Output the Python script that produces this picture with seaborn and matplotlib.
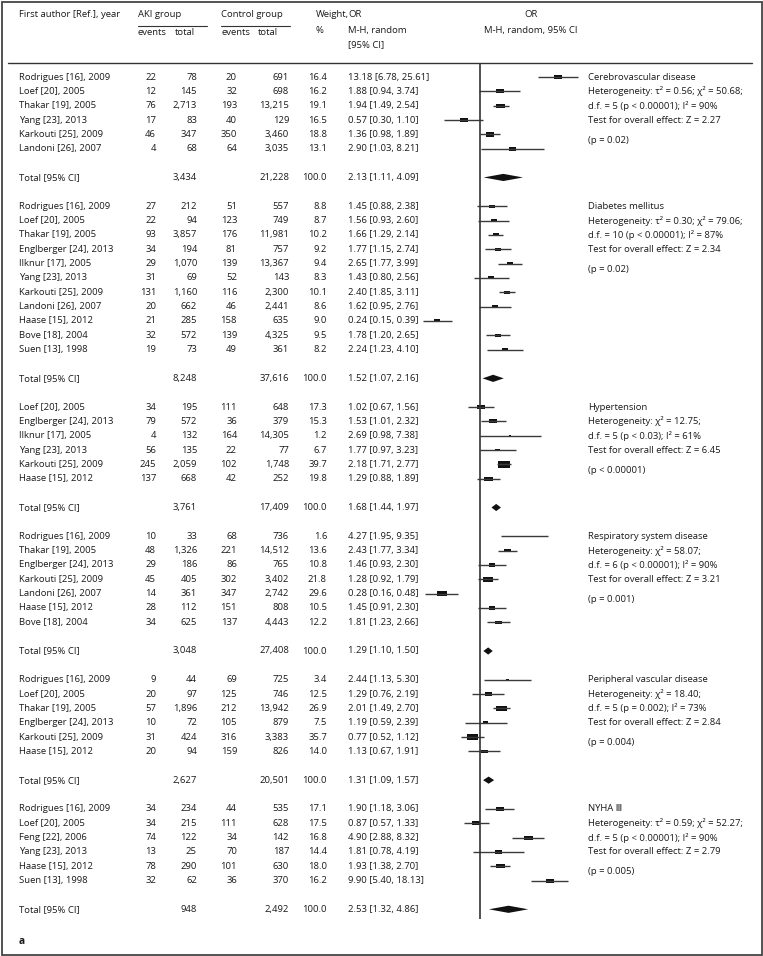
import numpy as np
import pandas as pd
import matplotlib
matplotlib.use("Agg")
import matplotlib.pyplot as plt
from matplotlib.path import Path
from matplotlib.markers import MarkerStyle
from matplotlib.patches import Rectangle
import seaborn as sns

sns.set_theme(style="white")
plt.rcParams['font.family'] = ['Open Sans', 'DejaVu Sans']

# ---------------- data ----------------
group_names = ["Cerebrovascular disease", "Diabetes mellitus", "Hypertension",
               "Respiratory system disease", "Peripheral vascular disease", "NYHA \u2162"]
group_sizes = [6, 11, 6, 7, 6, 6]

study_author = [
    "Rodrigues [16], 2009", "Loef [20], 2005", "Thakar [19], 2005", "Yang [23], 2013",
    "Karkouti [25], 2009", "Landoni [26], 2007",
    "Rodrigues [16], 2009", "Loef [20], 2005", "Thakar [19], 2005", "Englberger [24], 2013",
    "Ilknur [17], 2005", "Yang [23], 2013", "Karkouti [25], 2009", "Landoni [26], 2007",
    "Haase [15], 2012", "Bove [18], 2004", "Suen [13], 1998",
    "Loef [20], 2005", "Englberger [24], 2013", "Ilknur [17], 2005", "Yang [23], 2013",
    "Karkouti [25], 2009", "Haase [15], 2012",
    "Rodrigues [16], 2009", "Thakar [19], 2005", "Englberger [24], 2013", "Karkouti [25], 2009",
    "Landoni [26], 2007", "Haase [15], 2012", "Bove [18], 2004",
    "Rodrigues [16], 2009", "Loef [20], 2005", "Thakar [19], 2005", "Englberger [24], 2013",
    "Karkouti [25], 2009", "Haase [15], 2012",
    "Rodrigues [16], 2009", "Loef [20], 2005", "Feng [22], 2006", "Yang [23], 2013",
    "Haase [15], 2012", "Suen [13], 1998",
]
aki_events = [22, 12, 76, 17, 46, 4,
              27, 22, 93, 34, 29, 31, 131, 20, 21, 32, 19,
              34, 79, 4, 56, 245, 137,
              10, 48, 29, 45, 14, 28, 34,
              9, 20, 57, 10, 31, 20,
              34, 34, 74, 13, 78, 32]
aki_total = [78, 145, 2713, 83, 347, 68,
             212, 94, 3857, 194, 1070, 69, 1160, 662, 285, 572, 73,
             195, 572, 132, 135, 2059, 668,
             33, 1326, 186, 405, 361, 112, 625,
             44, 97, 1896, 72, 424, 94,
             234, 215, 122, 25, 290, 62]
ctl_events = [20, 32, 193, 40, 350, 64,
              51, 123, 176, 81, 139, 52, 116, 46, 158, 139, 49,
              111, 36, 164, 22, 102, 42,
              68, 221, 86, 302, 347, 151, 137,
              69, 125, 212, 105, 316, 159,
              44, 111, 34, 70, 101, 36]
ctl_total = [691, 698, 13215, 129, 3460, 3035,
             557, 749, 11981, 757, 13367, 143, 2300, 2441, 635, 4325, 361,
             648, 379, 14305, 77, 1748, 252,
             736, 14512, 765, 3402, 2742, 808, 4443,
             725, 746, 13942, 879, 3383, 826,
             535, 628, 142, 187, 630, 370]
weight = [16.4, 16.2, 19.1, 16.5, 18.8, 13.1,
          8.8, 8.7, 10.2, 9.2, 9.4, 8.3, 10.1, 8.6, 9.0, 9.5, 8.2,
          17.3, 15.3, 1.2, 6.7, 39.7, 19.8,
          1.6, 13.6, 10.8, 21.8, 29.6, 10.5, 12.2,
          3.4, 12.5, 26.9, 7.5, 35.7, 14.0,
          17.1, 17.5, 16.8, 14.4, 18.0, 16.2]
or_est = [13.18, 1.88, 1.94, 0.57, 1.36, 2.90,
          1.45, 1.56, 1.66, 1.77, 2.65, 1.43, 2.40, 1.62, 0.24, 1.78, 2.24,
          1.02, 1.53, 2.69, 1.77, 2.18, 1.29,
          4.27, 2.43, 1.46, 1.28, 0.28, 1.45, 1.81,
          2.44, 1.29, 2.01, 1.19, 0.77, 1.13,
          1.90, 0.87, 4.90, 1.81, 1.93, 9.90]
or_lo = [6.78, 0.94, 1.49, 0.30, 0.98, 1.03,
         0.88, 0.93, 1.29, 1.15, 1.77, 0.80, 1.85, 0.95, 0.15, 1.20, 1.23,
         0.67, 1.01, 0.98, 0.97, 1.71, 0.88,
         1.95, 1.77, 0.93, 0.92, 0.16, 0.91, 1.23,
         1.13, 0.76, 1.49, 0.59, 0.52, 0.67,
         1.18, 0.57, 2.88, 0.78, 1.38, 5.40]
or_hi = [25.61, 3.74, 2.54, 1.10, 1.89, 8.21,
         2.38, 2.60, 2.14, 2.74, 3.99, 2.56, 3.11, 2.76, 0.39, 2.65, 4.10,
         1.56, 2.32, 7.38, 3.23, 2.77, 1.89,
         9.35, 3.34, 2.30, 1.79, 0.48, 2.30, 2.66,
         5.30, 2.19, 2.70, 2.39, 1.12, 1.91,
         3.06, 1.33, 8.32, 4.19, 2.70, 18.13]

group_aki_total = [3434, 8248, 3761, 3048, 2627, 948]
group_ctl_total = [21228, 37616, 17409, 27408, 20501, 2492]
group_or = [2.13, 1.52, 1.68, 1.29, 1.31, 2.53]
group_lo = [1.11, 1.07, 1.44, 1.10, 1.09, 1.32]
group_hi = [4.09, 2.16, 1.97, 1.50, 1.57, 4.86]
group_het = ["Heterogeneity: \u03c4\u00b2 = 0.56; \u03c7\u00b2 = 50.68;",
             "Heterogeneity: \u03c4\u00b2 = 0.30; \u03c7\u00b2 = 79.06;",
             "Heterogeneity: \u03c7\u00b2 = 12.75;",
             "Heterogeneity: \u03c7\u00b2 = 58.07;",
             "Heterogeneity: \u03c7\u00b2 = 18.40;",
             "Heterogeneity: \u03c4\u00b2 = 0.59; \u03c7\u00b2 = 52.27;"]
group_df = ["d.f. = 5 (p < 0.00001); I\u00b2 = 90%",
            "d.f. = 10 (p < 0.00001); I\u00b2 = 87%",
            "d.f. = 5 (p < 0.03); I\u00b2 = 61%",
            "d.f. = 6 (p < 0.00001); I\u00b2 = 90%",
            "d.f. = 5 (p = 0.002); I\u00b2 = 73%",
            "d.f. = 5 (p < 0.00001); I\u00b2 = 90%"]
group_z = ["Test for overall effect: Z = 2.27", "Test for overall effect: Z = 2.34",
           "Test for overall effect: Z = 6.45", "Test for overall effect: Z = 3.21",
           "Test for overall effect: Z = 2.84", "Test for overall effect: Z = 2.79"]
group_p = ["(p = 0.02)", "(p = 0.02)", "(p < 0.00001)", "(p = 0.001)",
           "(p = 0.004)", "(p = 0.005)"]

# ---------------- layout (pixels) ----------------
W, H = 763, 956
ROW0, STEP = 77.0, 14.35
FS = 6.8
TXT = "#1a1a1a"
LN = "#333333"

# row indices
study_rows, total_rows = [], []
r = 0
for n in group_sizes:
    study_rows.extend(range(r, r + n))
    total_rows.append(r + n + 1)
    r = r + n + 3
study_rows = np.array(study_rows)
total_rows = np.array(total_rows)
group_first = [tr - 1 - n for tr, n in zip(total_rows, group_sizes)]

df = pd.DataFrame({"author": study_author, "row": study_rows, "est": or_est,
                   "lo": or_lo, "hi": or_hi, "weight": weight})

fig = plt.figure(figsize=(W / 100, H / 100), dpi=100)
bg = fig.add_axes([0, 0, 1, 1])
bg.set_xlim(0, W)
bg.set_ylim(H, 0)
bg.axis("off")

def ypx(row):
    return ROW0 + STEP * row

def txt(x, y, s, ha="left", **kw):
    bg.text(x, y, s, ha=ha, va="center", fontsize=kw.pop("fs", FS), color=TXT, **kw)

# frame and rules
bg.add_patch(Rectangle((1.5, 1.5), W - 3, H - 3, fill=False, lw=1.3, ec="#444444"))
bg.plot([8, 752], [63, 63], color=LN, lw=1.0)
bg.plot([138, 207], [26, 26], color=LN, lw=0.8)
bg.plot([221, 290], [26, 26], color=LN, lw=0.8)

# header
txt(19, 14, "First author [Ref.], year")
txt(138, 14, "AKI group")
txt(221, 14, "Control group")
txt(138, 32, "events")
txt(175, 32, "total")
txt(221, 32, "events")
txt(258, 32, "total")
txt(316, 14, "Weight,")
txt(316, 30, "%")
txt(348, 14, "OR")
txt(348, 30, "M-H, random")
txt(348, 45, "[95% CI]")
txt(531, 14, "OR", ha="center")
txt(531, 30, "M-H, random, 95% CI", ha="center")

# study rows
for i in range(len(study_author)):
    y = ypx(study_rows[i])
    txt(19, y, study_author[i])
    txt(156, y, f"{aki_events[i]:,}", ha="right")
    txt(197, y, f"{aki_total[i]:,}", ha="right")
    txt(237, y, f"{ctl_events[i]:,}", ha="right")
    txt(289, y, f"{ctl_total[i]:,}", ha="right")
    txt(327, y, f"{weight[i]:.1f}", ha="right")
    txt(348, y, f"{or_est[i]:.2f} [{or_lo[i]:.2f}, {or_hi[i]:.2f}]")

# totals and annotations
for g in range(len(group_names)):
    y = ypx(total_rows[g])
    txt(19, y, "Total [95% CI]")
    txt(197, y, f"{group_aki_total[g]:,}", ha="right")
    txt(289, y, f"{group_ctl_total[g]:,}", ha="right")
    txt(327, y, "100.0", ha="right")
    txt(348, y, f"{group_or[g]:.2f} [{group_lo[g]:.2f}, {group_hi[g]:.2f}]")
    f0 = group_first[g]
    txt(588, ypx(f0), group_names[g])
    txt(588, ypx(f0 + 1), group_het[g])
    txt(588, ypx(f0 + 2), group_df[g])
    txt(588, ypx(f0 + 3), group_z[g])
    txt(588, ypx(f0 + 4.4), group_p[g])

txt(19, 941, "a", fontweight="bold", fs=7.4)

# ---------------- forest axes ----------------
XL, XR, YT, YB = 341.5, 619.5, 63.0, 919.0
ax = fig.add_axes([XL / W, 1 - YB / H, (XR - XL) / W, (YB - YT) / H])
ax.patch.set_alpha(0)
ax.set_xscale("log")

ax.hlines(df["row"], df["lo"], df["hi"], color="#3a3a3a", lw=1.0)
rect = Path([(-1, -0.5), (1, -0.5), (1, 0.5), (-1, 0.5), (-1, -0.5)],
            [Path.MOVETO, Path.LINETO, Path.LINETO, Path.LINETO, Path.CLOSEPOLY])
sns.scatterplot(data=df, x="est", y="row", size="weight", sizes=(0, 201),
                size_norm=(0, 100), marker=MarkerStyle(rect), color="#111111",
                linewidth=0, legend=False, ax=ax)

hh = 0.25
for g in range(len(group_names)):
    tr = total_rows[g]
    ax.fill([group_lo[g], group_or[g], group_hi[g], group_or[g]],
            [tr, tr - hh, tr, tr + hh], color="#111111", lw=0)

ax.axvline(1, color=LN, lw=1.2)
ax.set_xlim(0.01, 100)
ax.set_ylim((YB - ROW0) / STEP, (YT - ROW0) / STEP)
ax.axis("off")

fig.savefig("out.png", dpi=100)
